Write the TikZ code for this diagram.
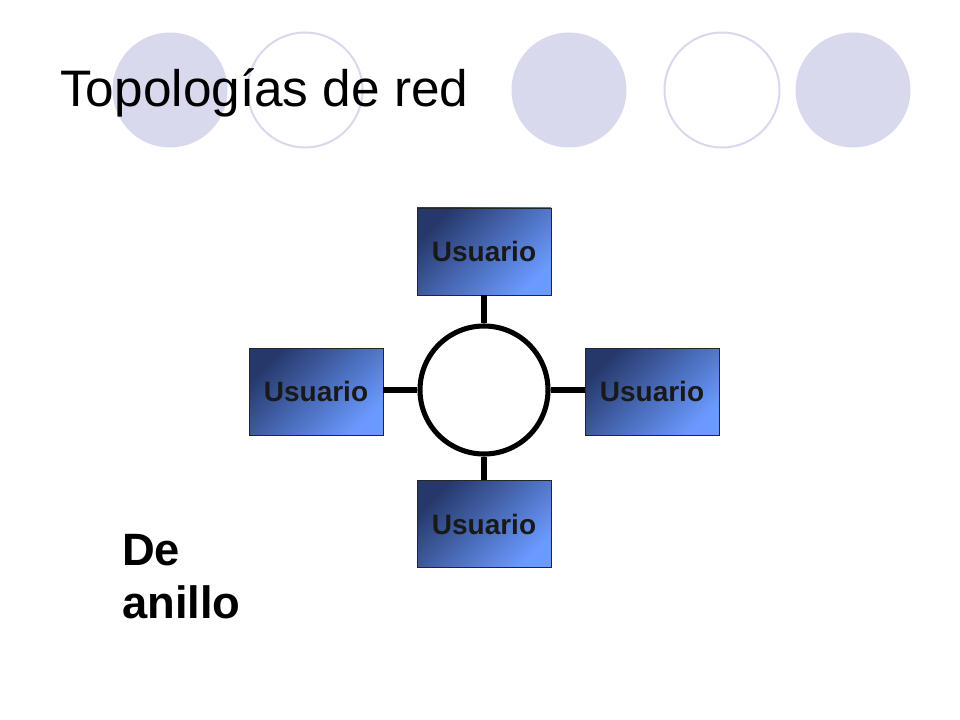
\documentclass[tikz,border=0pt]{standalone}
\usepackage{fontspec}
\setmainfont{Liberation Sans}
\usetikzlibrary{calc}
\begin{document}
\begin{tikzpicture}[x=0.75pt,y=-0.75pt,
  deco/.style={circle,minimum size=115*0.75pt,inner sep=0pt},
  decofill/.style={deco,fill=lav},
  decoline/.style={deco,draw=lav,line width=1.5pt},
  userbox/.style={draw=black!85,line width=0.6pt,minimum width=134*0.75pt,minimum height=87*0.75pt,
     inner sep=0pt,top color=boxdark,bottom color=boxlight,shading angle=45,
     font=\bfseries\fontsize{21}{25}\selectfont,text=black!90},
  ring/.style={line width=3.8pt,draw=black},
  link/.style={line width=3.8pt,draw=black}
]
\definecolor{lav}{HTML}{D9D9EE}
\definecolor{boxdark}{HTML}{26386A}
\definecolor{boxlight}{HTML}{6A9AFF}
\useasboundingbox[fill=white] (0,0) rectangle (960,720);
% decorative circles
\node[decofill] (c1) at (170,90) {};
\node[decoline] (c2) at (305,90) {};
\node[decofill] (c3) at (569,90) {};
\node[decoline] (c4) at (722,90) {};
\node[decofill] (c5) at (853,90) {};
% title
\node[anchor=base west,inner sep=0pt,font=\fontsize{38.5}{46}\selectfont] (title) at (60,107) {Topologías de red};
% ring
\node[circle,ring,minimum size=128*0.75pt,inner sep=0pt] (r) at (484,390) {};
% boxes
\node[userbox] (top) at (484,251.5) {Usuario};
\node[userbox] (left) at (316,391.5) {Usuario};
\node[userbox] (right) at (652,391.5) {Usuario};
\node[userbox] (bot) at (484,524) {Usuario};
% links
\draw[link] (top.south) -- (r.north);
\draw[link] (bot.north) -- (r.south);
\draw[link] (r.west -| left.east) -- (r.west);
\draw[link] (r.east -| right.west) -- (r.east);
% caption
\node[anchor=base west,inner sep=0pt,align=left,font=\bfseries\fontsize{34}{39.75}\selectfont] (cap) at (122,618) {De\\anillo};
\end{tikzpicture}
\end{document}
